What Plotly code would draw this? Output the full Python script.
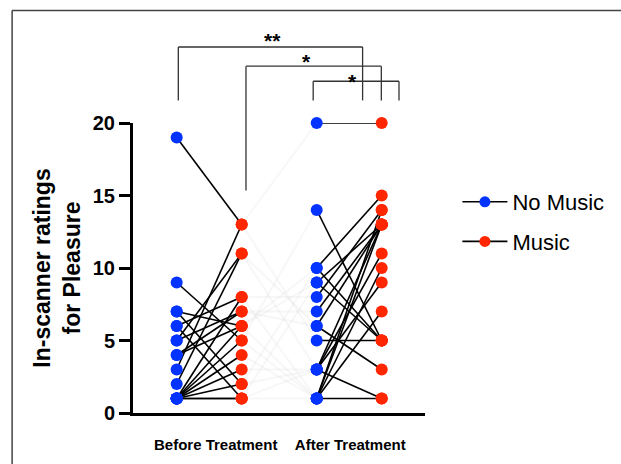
import plotly.graph_objects as go

# ---- data (one entry per subject) ----
before_no_music = [19, 9, 7, 7, 6, 6, 5, 5, 4, 3, 2, 1, 1, 1, 1, 1, 1, 1, 4, 1]
before_music    = [13, 5, 2, 6, 1, 8, 7, 11, 7, 13, 11, 1, 2, 3, 4, 6, 5, 8, 6, 1]
after_no_music  = [20, 14, 10, 10, 9, 8, 7, 6, 6, 5, 3, 3, 3, 3, 1, 1, 1, 1, 9, 1]
after_music     = [20, 5, 15, 5, 13, 14, 13, 3, 13, 5, 1, 13, 9, 11, 1, 10, 7, 14, 5, 13]

group_labels = ["Before Treatment", "After Treatment"]
series_names = ["No Music", "Music"]
y_ticks = [0, 5, 10, 15, 20]

# x positions of the four columns
X_BNM, X_BM, X_ANM, X_AM = 1.0, 2.0, 3.154, 4.154
BLUE = "#0433ff"
RED = "#ff2600"
FONT = "Arial, Liberation Sans, sans-serif"


def segments(xa, ya, xb, yb):
    xs, ys = [], []
    for a, b in zip(ya, yb):
        xs += [xa, xb, None]
        ys += [a, b, None]
    return xs, ys


fig = go.Figure()

# faint connections between the two treatment phases
fx, fy = segments(X_BM, before_music, X_ANM, after_no_music)
fig.add_trace(go.Scatter(x=fx, y=fy, mode="lines",
                         line=dict(color="rgba(215,215,215,0.2)", width=2),
                         hoverinfo="skip", showlegend=False))

# black paired lines
bx, by = segments(X_BNM, before_no_music, X_BM, before_music)
ax_, ay = segments(X_ANM, after_no_music, X_AM, after_music)
fig.add_trace(go.Scatter(x=bx + ax_, y=by + ay, mode="lines",
                         line=dict(color="black", width=1.6),
                         showlegend=False, cliponaxis=False))

# markers
n = len(before_no_music)
fig.add_trace(go.Scatter(x=[X_BNM] * n + [X_ANM] * n,
                         y=before_no_music + after_no_music,
                         mode="markers", marker=dict(color=BLUE, size=12),
                         showlegend=False, cliponaxis=False))
fig.add_trace(go.Scatter(x=[X_BM] * n + [X_AM] * n,
                         y=before_music + after_music,
                         mode="markers", marker=dict(color=RED, size=12),
                         showlegend=False, cliponaxis=False))

# legend entries
for name, col in zip(series_names, [BLUE, RED]):
    fig.add_trace(go.Scatter(x=[None], y=[None], mode="lines+markers", name=name,
                             legendgroup=name,
                             line=dict(color="black", width=1.6),
                             marker=dict(color=col, size=11)))

# significance brackets (x in data units, y in paper units)
line_style = dict(color="#333333", width=1.3)
brackets = [
    (1.025, 3.86, 1.262, 1.078, 1.078),
    (2.066, 4.148, 1.196, 0.767, 1.078),
    (3.10, 4.42, 1.144, 1.078, 1.078),
]
for xl, xr, ytop, yl, yr in brackets:
    fig.add_shape(type="line", xref="x", yref="paper", x0=xl, x1=xl, y0=yl, y1=ytop, line=line_style)
    fig.add_shape(type="line", xref="x", yref="paper", x0=xl, x1=xr, y0=ytop, y1=ytop, line=line_style)
    fig.add_shape(type="line", xref="x", yref="paper", x0=xr, x1=xr, y0=ytop, y1=yr, line=line_style)

for txt, xx, yy in [("**", 2.48, 1.285), ("*", 3.0, 1.213), ("*", 3.70, 1.143)]:
    fig.add_annotation(text="<b>" + txt + "</b>", x=xx, y=yy, xref="x", yref="paper",
                       showarrow=False, yanchor="middle",
                       font=dict(family=FONT, size=21, color="black"))

# outer frame (left and top)
fig.add_shape(type="line", xref="paper", yref="paper", x0=-0.414, x1=-0.414, y0=1.388, y1=-0.2,
              line=dict(color="#444444", width=1.5))
fig.add_shape(type="line", xref="paper", yref="paper", x0=-0.414, x1=1.7, y0=1.388, y1=1.388,
              line=dict(color="#444444", width=1.5))

fig.update_layout(
    width=621, height=464,
    margin=dict(l=133, r=196, t=123, b=51),
    paper_bgcolor="white", plot_bgcolor="white",
    font=dict(family=FONT, color="black"),
    legend=dict(x=1.111, y=0.80, xanchor="left", yanchor="top",
                font=dict(size=22, family=FONT), traceorder="grouped",
                tracegroupgap=8, itemwidth=45, bgcolor="rgba(0,0,0,0)"),
    xaxis=dict(range=[0.328, 4.82], showline=True, linecolor="black", linewidth=3,
               showgrid=False, zeroline=False, ticks="",
               tickvals=[1.6, 3.67], ticktext=group_labels,
               tickfont=dict(size=15, family=FONT, weight="bold"),
               ticklabelstandoff=16),
    yaxis=dict(range=[0, 20], showline=True, linecolor="black", linewidth=3,
               showgrid=False, zeroline=False, ticks="outside", ticklen=11,
               tickwidth=3, tickcolor="black", tickvals=y_ticks,
               tickfont=dict(size=20, family=FONT, weight="bold"),
               title=dict(text="In-scanner ratings<br>for Pleasure",
                          font=dict(size=23, family=FONT, weight="bold"),
                          standoff=6)),
)

fig.write_html("out.html", config={"displayModeBar": False},
               post_script="document.body.style.margin='0';document.body.style.padding='0';")
